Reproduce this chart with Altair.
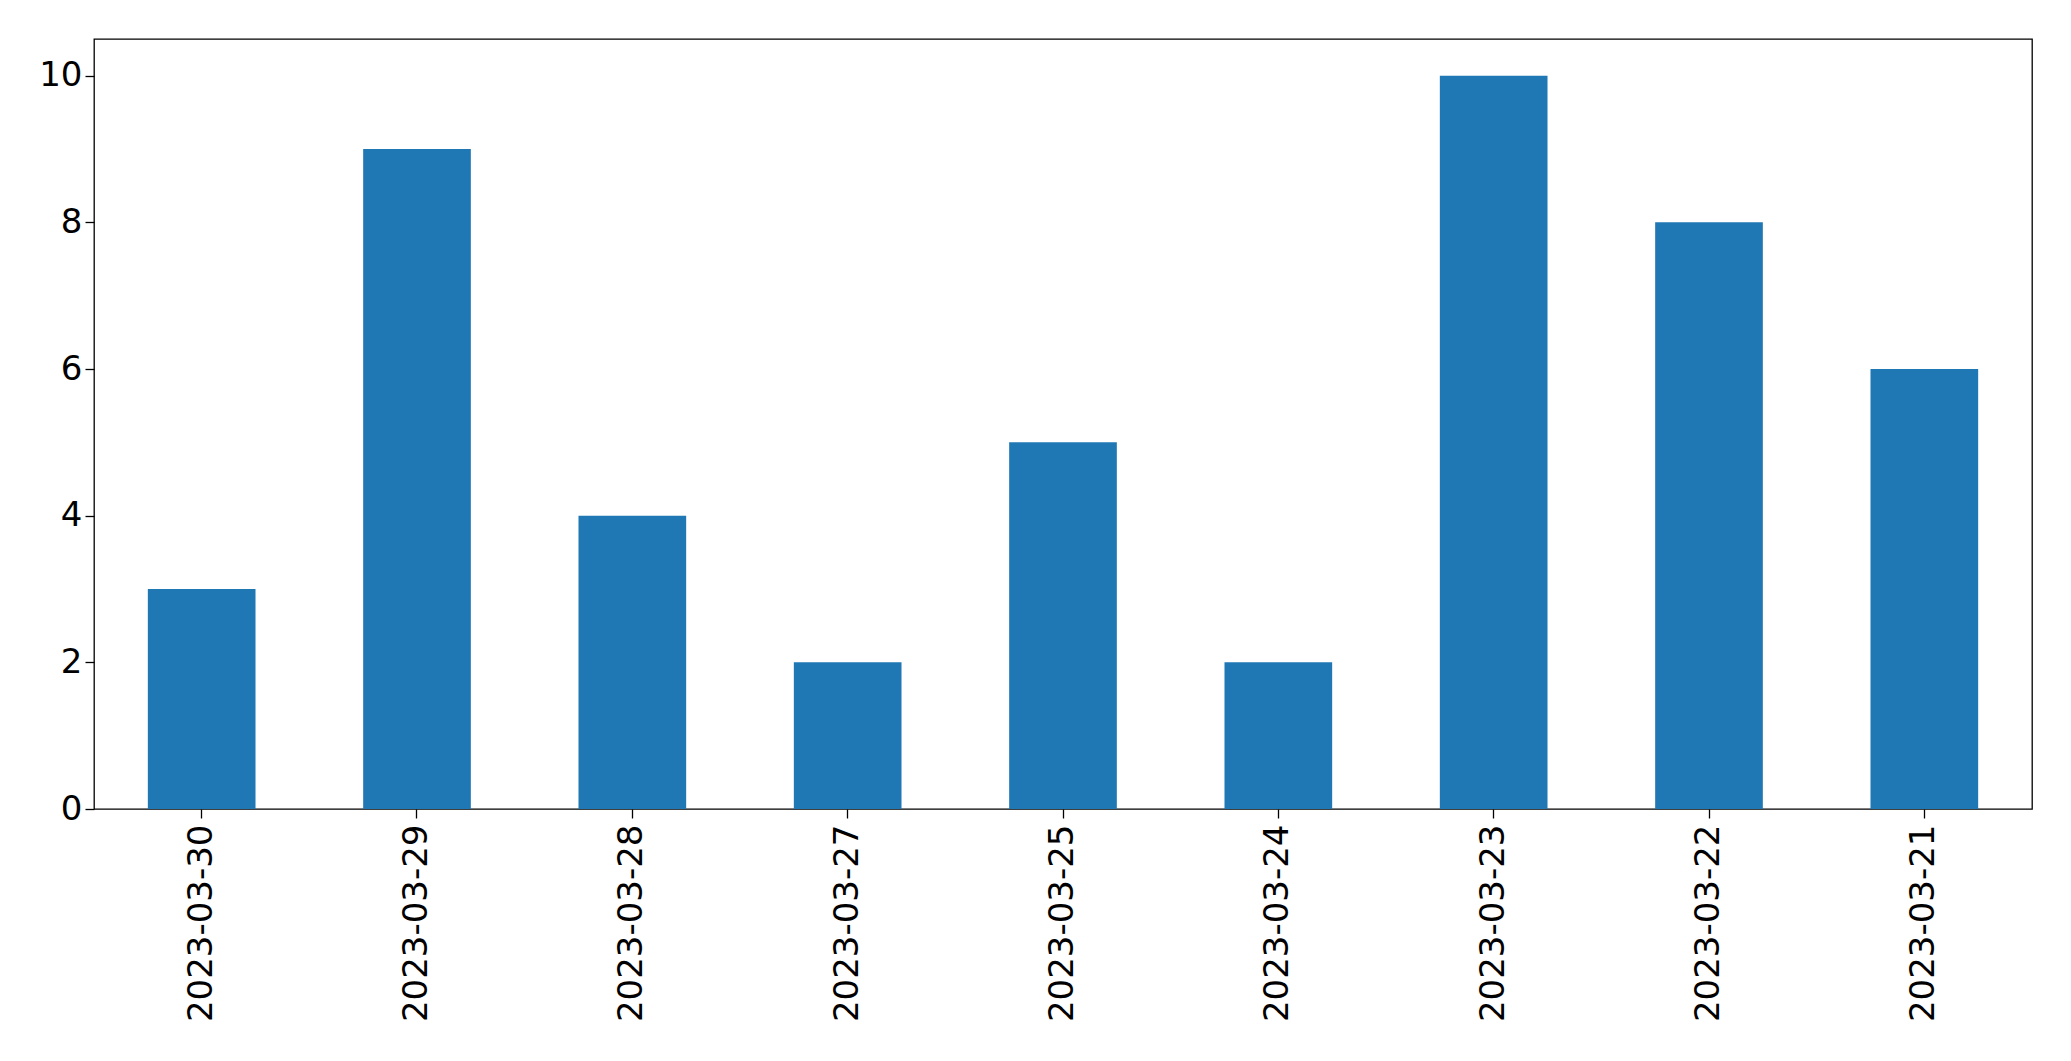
import altair as alt
import pandas as pd

dates = ["2023-03-30", "2023-03-29", "2023-03-28", "2023-03-27", "2023-03-25",
         "2023-03-24", "2023-03-23", "2023-03-22", "2023-03-21"]
counts = [3, 9, 4, 2, 5, 2, 10, 8, 6]

df = pd.DataFrame({"date": dates, "count": counts})

chart = alt.Chart(df).mark_bar(color="#1f77b4").encode(
    x=alt.X("date:N", sort=None, title=None,
            scale=alt.Scale(paddingInner=0.5, paddingOuter=0.25),
            axis=alt.Axis(labelAngle=-90, labelFontSize=34, labelFont="DejaVu Sans",
                          labelColor="black", tickColor="black", tickSize=9,
                          tickWidth=1.3, labelPadding=6, labelLimit=600,
                          domain=False, grid=False)),
    y=alt.Y("count:Q", title=None,
            scale=alt.Scale(domain=[0, 10.5], nice=False),
            axis=alt.Axis(values=[0, 2, 4, 6, 8, 10], labelFontSize=34,
                          labelFont="DejaVu Sans", labelColor="black",
                          tickColor="black", tickSize=9, tickWidth=1.3,
                          labelPadding=3, domain=False, grid=False)),
).properties(
    width=1938, height=770,
    autosize=alt.AutoSizeParams(type="none"),
    padding={"left": 86, "top": 31, "right": 31, "bottom": 240},
).configure_view(stroke="black", strokeWidth=1.3)

chart.save("out.html", embed_options={"renderer": "svg", "actions": False})
